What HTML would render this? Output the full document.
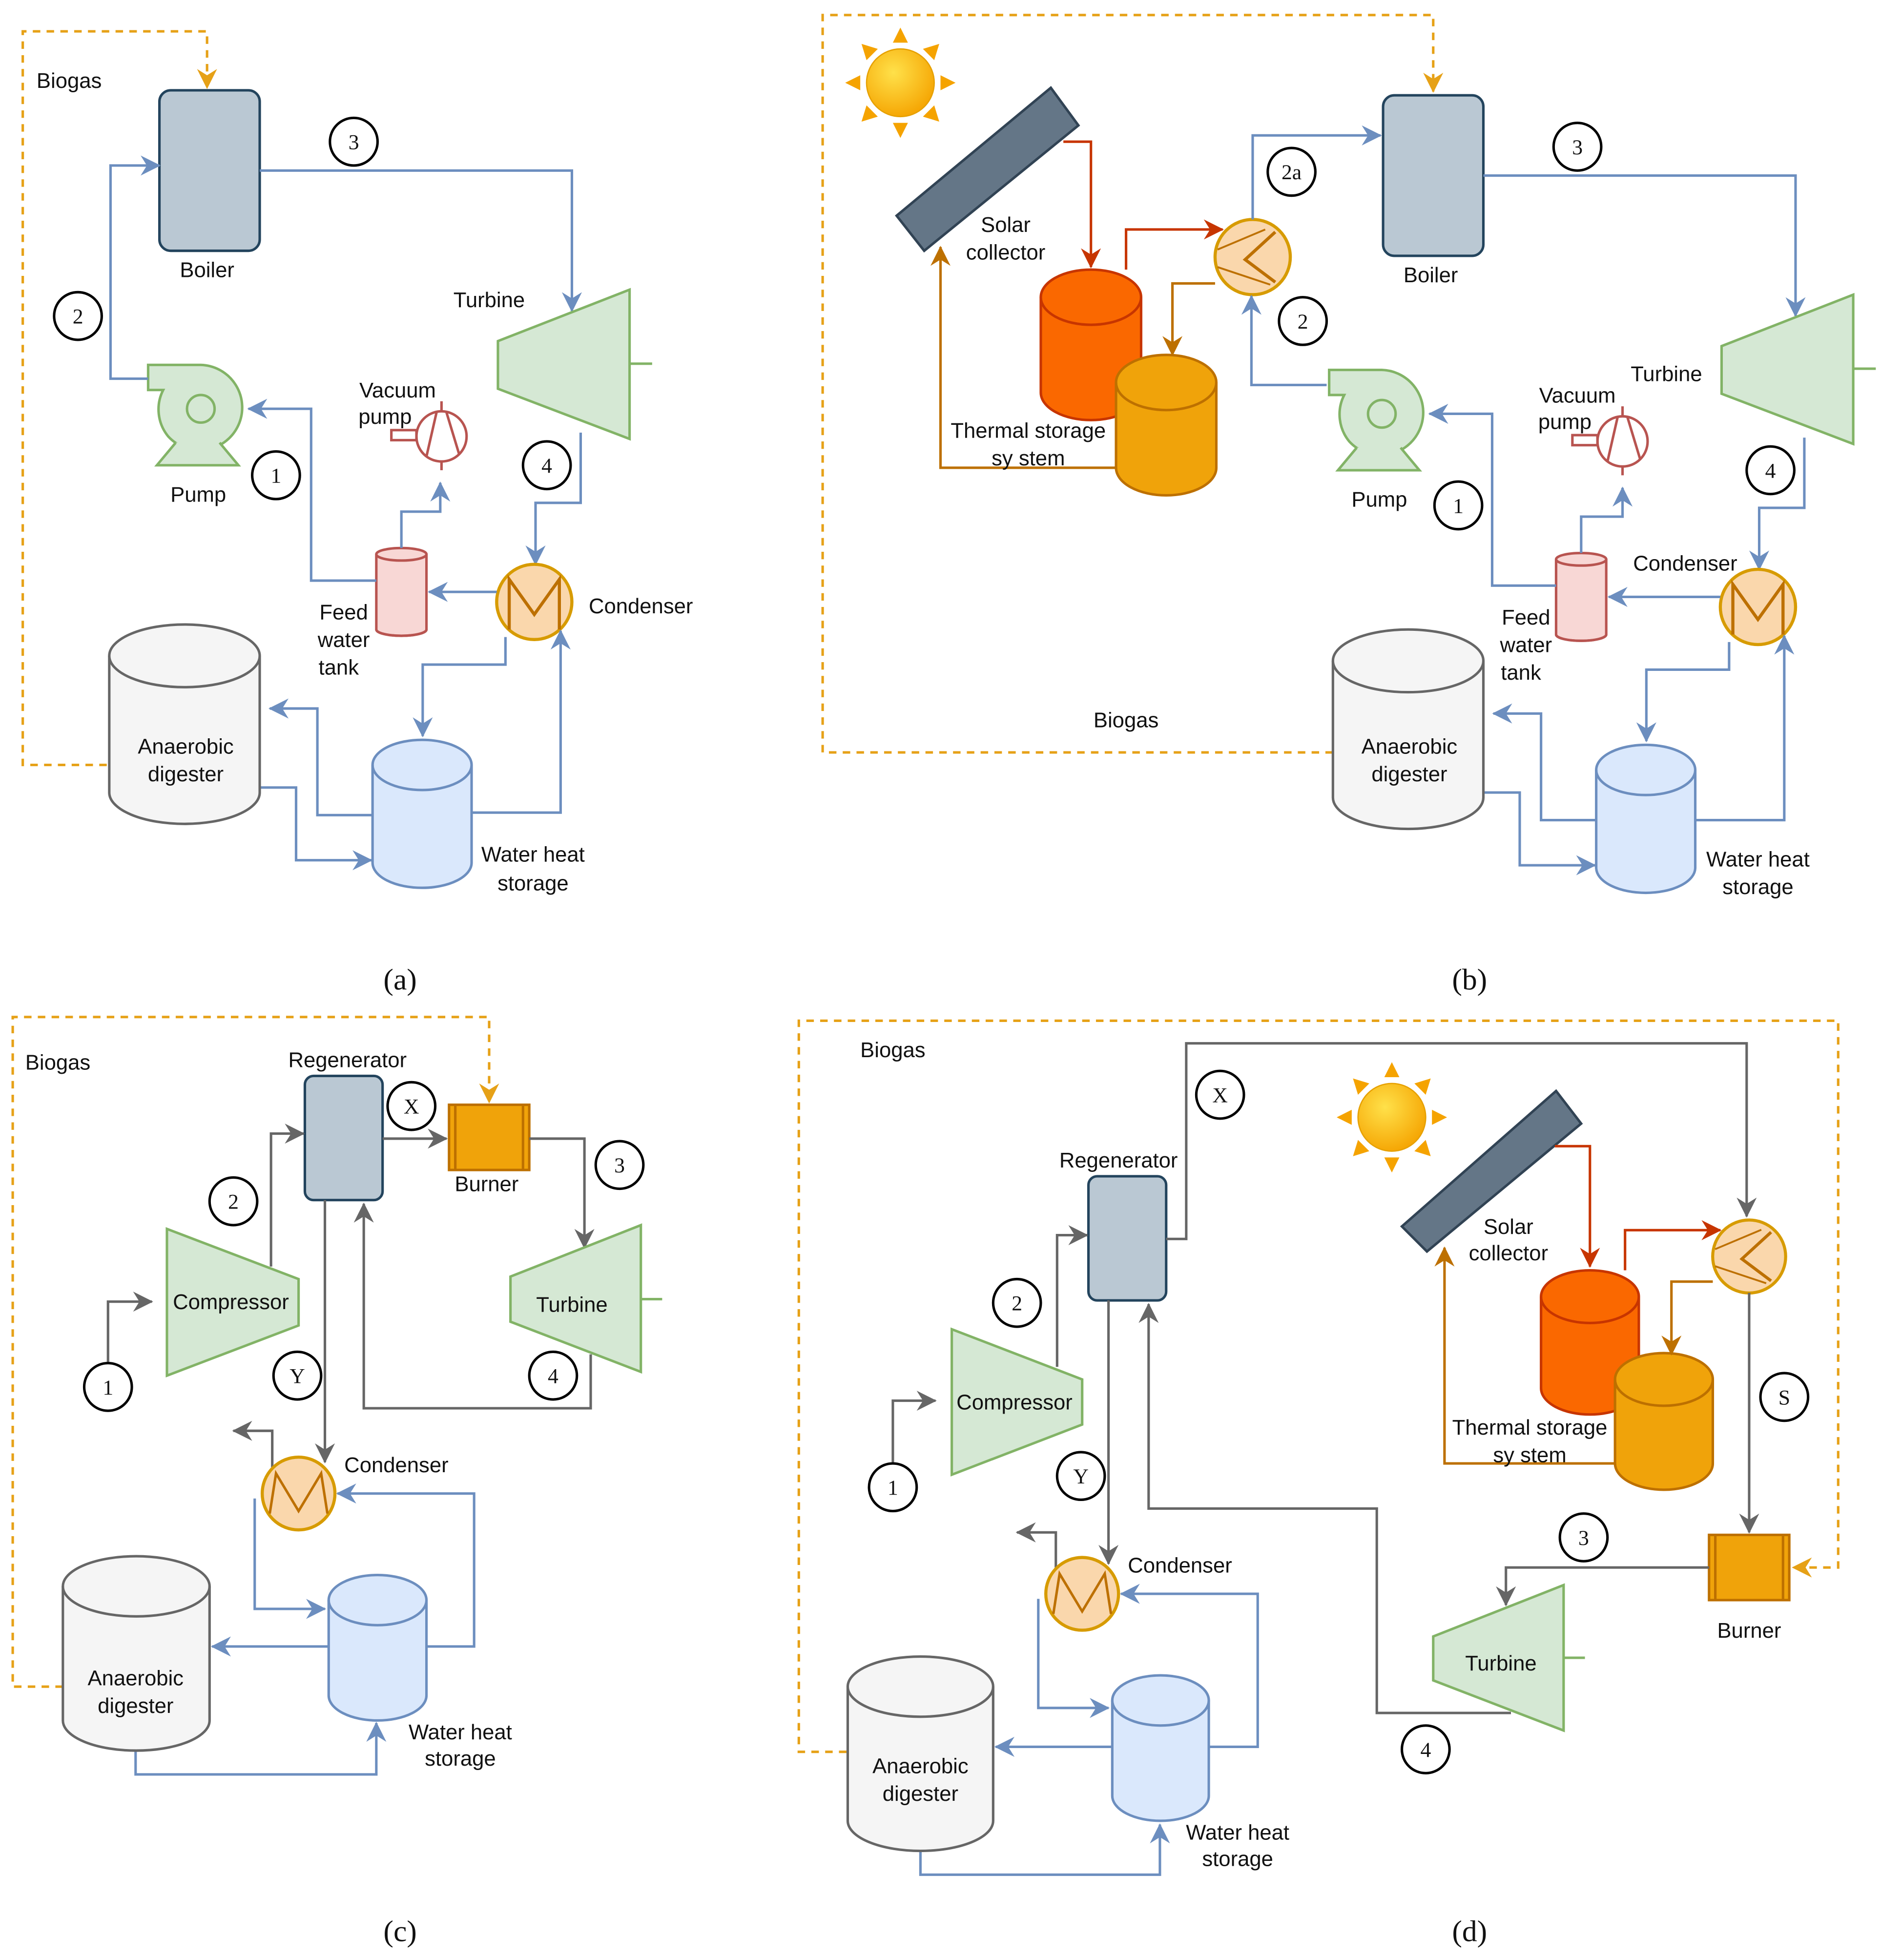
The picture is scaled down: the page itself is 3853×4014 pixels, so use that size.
<!DOCTYPE html>
<html><head><meta charset="utf-8"><style>
html,body{margin:0;padding:0;background:#fff}
svg{display:block}
text{font-family:"Liberation Sans",sans-serif;font-size:17px;fill:#111;text-anchor:middle}
.s{font-family:"Liberation Serif",serif}
.b{fill:none;stroke:#6c8ebf;stroke-width:2}
.g{fill:none;stroke:#666;stroke-width:2}
.d{fill:none;stroke:#e6a117;stroke-width:2;stroke-dasharray:6 5}
.r{fill:none;stroke:#c73500;stroke-width:2}
.o{fill:none;stroke:#bd7000;stroke-width:2}
.c{fill:#fff;stroke:#000;stroke-width:2}
</style></head><body>
<svg width="3853" height="4014" viewBox="0 0 1500 1563" xmlns="http://www.w3.org/2000/svg">
<defs>
<marker id="ab" viewBox="0 0 10 10" refX="9" refY="5" markerWidth="8" markerHeight="8" orient="auto" markerUnits="userSpaceOnUse"><path d="M0 0L10 5L0 10L3 5z" fill="#6c8ebf" transform="scale(1.6)" /></marker>
<marker id="ag" viewBox="0 0 16 16" refX="15" refY="8" markerWidth="16" markerHeight="16" orient="auto" markerUnits="userSpaceOnUse"><path d="M0 0L16 8L0 16L5 8z" fill="#666"/></marker>
<marker id="abl" viewBox="0 0 16 16" refX="15" refY="8" markerWidth="16" markerHeight="16" orient="auto" markerUnits="userSpaceOnUse"><path d="M0 0L16 8L0 16L5 8z" fill="#6c8ebf"/></marker>
<marker id="ad" viewBox="0 0 16 16" refX="15" refY="8" markerWidth="16" markerHeight="16" orient="auto" markerUnits="userSpaceOnUse"><path d="M0 0L16 8L0 16L5 8z" fill="#e6a117"/></marker>
<marker id="ar" viewBox="0 0 16 16" refX="15" refY="8" markerWidth="16" markerHeight="16" orient="auto" markerUnits="userSpaceOnUse"><path d="M0 0L16 8L0 16L5 8z" fill="#c73500"/></marker>
<marker id="ao" viewBox="0 0 16 16" refX="15" refY="8" markerWidth="16" markerHeight="16" orient="auto" markerUnits="userSpaceOnUse"><path d="M0 0L16 8L0 16L5 8z" fill="#bd7000"/></marker>
<radialGradient id="sun" cx="0.4" cy="0.35" r="0.7"><stop offset="0" stop-color="#ffe14a"/><stop offset="1" stop-color="#f5a300"/></radialGradient>
<g id="pump"><path d="M-42 -35 H0 A34 34 0 1 1 -26 22 A34 34 0 0 1 -30 -15 H-42 Z" fill="#d5e8d4" stroke="#82b366" stroke-width="2"/><circle r="11" fill="none" stroke="#82b366" stroke-width="2"/><path d="M-20 27 L-35 45 H30 L15 27" fill="#d5e8d4" stroke="#82b366" stroke-width="2"/></g>
<g id="vac"><circle r="20" fill="#fff" stroke="#b85450" stroke-width="2"/><path d="M-12 16 L-4 -19 M4 -19 L14 14" stroke="#b85450" stroke-width="2" fill="none"/><rect x="-40" y="-5" width="20" height="8" fill="#fff" stroke="#b85450" stroke-width="2"/><path d="M0 -20V-28 M0 20V27" stroke="#b85450" stroke-width="2"/></g>
<g id="cond"><circle r="30" fill="#fad7ac" stroke="#d79b00" stroke-width="2.5"/><path d="M-20 22 V-18 L0 10 L20 -18 V22" fill="none" stroke="#bd7000" stroke-width="2.5"/></g>
<g id="cond2"><circle r="29" fill="#fad7ac" stroke="#d79b00" stroke-width="2.5"/><path d="M-23 16 L-18 -16 L0 14 L18 -16 L23 16" fill="none" stroke="#bd7000" stroke-width="2"/></g>
<g id="hx"><circle r="30" fill="#fad7ac" stroke="#d79b00" stroke-width="2.5"/><path d="M18 -20 L-6 2 L18 20" fill="none" stroke="#bd7000" stroke-width="2.5"/><path d="M-28 -6 L10 -22 M-28 8 L14 22" stroke="#bd7000" stroke-width="1.5" fill="none"/></g>
<g id="sunI"><g fill="#f5a300"><path d="M0 -44 L-6 -32 H6Z"/><path d="M0 44 L-6 32 H6Z"/><path d="M-44 0 L-32 -6 V6Z"/><path d="M44 0 L32 -6 V6Z"/><path d="M-31 -31 L-27 -18 L-18 -27Z"/><path d="M31 -31 L27 -18 L18 -27Z"/><path d="M-31 31 L-27 18 L-18 27Z"/><path d="M31 31 L27 18 L18 27Z"/></g><circle r="27" fill="url(#sun)" stroke="#e6a000"/></g>
<g id="burner"><rect x="0" y="0" width="64" height="52" fill="#f0a30a" stroke="#bd7000" stroke-width="2"/><path d="M5 0V52 M59 0V52" stroke="#bd7000" stroke-width="2"/></g>
</defs>

<!-- ===== (a) ===== -->
<path class="d" d="M85 610H18V25H165V70" marker-end="url(#ad)"/>
<text x="55" y="70">Biogas</text>
<rect x="127" y="72" width="80" height="128" rx="9" fill="#bac8d3" stroke="#23445d" stroke-width="2"/>
<text x="165" y="221">Boiler</text>
<path class="b" d="M207 136H456V248" marker-end="url(#abl)"/>
<circle class="c" cx="282" cy="113" r="19"/><text class="s" x="282" y="119">3</text>
<path d="M397 272L502 231V350L397 310Z" fill="#d5e8d4" stroke="#82b366" stroke-width="2"/><path d="M502 290H520" stroke="#82b366" stroke-width="2"/>
<text x="390" y="245">Turbine</text>
<path class="b" d="M463 345V401H427V450" marker-end="url(#abl)"/>
<circle class="c" cx="436" cy="371" r="19"/><text class="s" x="436" y="377">4</text>
<use href="#cond" x="426" y="480"/>
<text x="511" y="489">Condenser</text>
<path class="b" d="M396 472H342" marker-end="url(#abl)"/>
<path d="M300 442a20 5 0 0 1 40 0v60a20 5 0 0 1 -40 0z" fill="#f8d7d5" stroke="#b85450" stroke-width="2"/><path d="M300 442a20 5 0 0 0 40 0M300 502a20 5 0 0 0 40 0" fill="none" stroke="#b85450" stroke-width="2"/>
<text x="274" y="494">Feed</text><text x="274" y="516">water</text><text x="270" y="538">tank</text>
<path class="b" d="M320 437V408H351V385" marker-end="url(#abl)"/>
<use href="#vac" x="352" y="348"/>
<text x="317" y="317">Vacuum</text><text x="307" y="338">pump</text>
<path class="b" d="M300 463H248V326H198" marker-end="url(#abl)"/>
<use href="#pump" x="160" y="326"/>
<text x="158" y="400">Pump</text>
<circle class="c" cx="220" cy="379" r="19"/><text class="s" x="220" y="385">1</text>
<path class="b" d="M118 302H88V132H127" marker-end="url(#abl)"/>
<circle class="c" cx="62" cy="252" r="19"/><text class="s" x="62" y="258">2</text>
<path class="b" d="M403 508V530H337V587" marker-end="url(#abl)"/>
<path class="b" d="M376 648H447V503" marker-end="url(#abl)"/>
<path class="b" d="M297 650H253V565H215" marker-end="url(#abl)"/>
<path class="b" d="M207 628H236V686H296" marker-end="url(#abl)"/>
<path d="M87 523a60 25 0 0 1 120 0v109a60 25 0 0 1 -120 0z" fill="#f5f5f5" stroke="#666" stroke-width="2"/><path d="M87 523a60 25 0 0 0 120 0" fill="none" stroke="#666" stroke-width="2"/>
<text x="148" y="601">Anaerobic</text><text x="148" y="623">digester</text>
<path d="M297 610a39.5 20 0 0 1 79 0v78a39.5 20 0 0 1 -79 0z" fill="#dae8fc" stroke="#6c8ebf" stroke-width="2"/><path d="M297 610a39.5 20 0 0 0 79 0" fill="none" stroke="#6c8ebf" stroke-width="2"/>
<text x="425" y="687">Water heat</text><text x="425" y="710">storage</text>
<text class="s" x="319" y="789" style="font-size:24px">(a)</text>

<!-- ===== (b) ===== -->
<path class="d" d="M1063 600H656V12H1143V73" marker-end="url(#ad)"/>
<text x="898" y="580">Biogas</text>
<use href="#sunI" x="718" y="66"/>
<path d="M715 172L838 70L860 100L737 200Z" fill="#647687" stroke="#314354" stroke-width="2"/>
<text x="802" y="185">Solar</text><text x="802" y="207">collector</text>
<path class="r" d="M848 113H870V213" marker-end="url(#ar)"/>
<path d="M830 237a40 22 0 0 1 80 0v76a40 22 0 0 1 -80 0z" fill="#fa6800" stroke="#c73500" stroke-width="2"/><path d="M830 237a40 22 0 0 0 80 0" fill="none" stroke="#c73500" stroke-width="2"/>
<path d="M890 305a40 22 0 0 1 80 0v68a40 22 0 0 1 -80 0z" fill="#f0a30a" stroke="#bd7000" stroke-width="2"/><path d="M890 305a40 22 0 0 0 80 0" fill="none" stroke="#bd7000" stroke-width="2"/>
<path class="r" d="M898 215V183H975" marker-end="url(#ar)"/>
<use href="#hx" x="999" y="205"/>
<path class="o" d="M969 226H935V283" marker-end="url(#ao)"/>
<path class="o" d="M890 373H750V197" marker-end="url(#ao)"/>
<text x="820" y="349">Thermal storage</text><text x="820" y="371">sy stem</text>
<path class="b" d="M999 175V108H1101" marker-end="url(#abl)"/>
<circle class="c" cx="1030" cy="137" r="19"/><text class="s" x="1030" y="143">2a</text>
<path class="b" d="M1058 307H998V236" marker-end="url(#abl)"/>
<circle class="c" cx="1039" cy="256" r="19"/><text class="s" x="1039" y="262">2</text>
<g transform="translate(976,4)">
<rect x="127" y="72" width="80" height="128" rx="9" fill="#bac8d3" stroke="#23445d" stroke-width="2"/>
<text x="165" y="221">Boiler</text>
<path class="b" d="M207 136H456V248" marker-end="url(#abl)"/>
<circle class="c" cx="282" cy="113" r="19"/><text class="s" x="282" y="119">3</text>
<path d="M397 272L502 231V350L397 310Z" fill="#d5e8d4" stroke="#82b366" stroke-width="2"/><path d="M502 290H520" stroke="#82b366" stroke-width="2"/>
<text x="353" y="300">Turbine</text>
<path class="b" d="M463 345V401H427V450" marker-end="url(#abl)"/>
<circle class="c" cx="436" cy="371" r="19"/><text class="s" x="436" y="377">4</text>
<use href="#cond" x="426" y="480"/>
<text x="368" y="451">Condenser</text>
<path class="b" d="M396 472H307" marker-end="url(#abl)"/>
<path d="M265 442a20 5 0 0 1 40 0v60a20 5 0 0 1 -40 0z" fill="#f8d7d5" stroke="#b85450" stroke-width="2"/><path d="M265 442a20 5 0 0 0 40 0M265 502a20 5 0 0 0 40 0" fill="none" stroke="#b85450" stroke-width="2"/>
<text x="241" y="494">Feed</text><text x="241" y="516">water</text><text x="237" y="538">tank</text>
<path class="b" d="M285 437V408H318V385" marker-end="url(#abl)"/>
<use href="#vac" x="318" y="348"/>
<text x="282" y="317">Vacuum</text><text x="272" y="338">pump</text>
<path class="b" d="M265 463H214V326H164" marker-end="url(#abl)"/>
<use href="#pump" x="126" y="326"/>
<text x="124" y="400">Pump</text>
<circle class="c" cx="187" cy="399" r="19"/><text class="s" x="187" y="405">1</text>
<path class="b" d="M403 508V530H337V587" marker-end="url(#abl)"/>
<path class="b" d="M376 650H447V503" marker-end="url(#abl)"/>
<path class="b" d="M297 650H253V565H215" marker-end="url(#abl)"/>
<path class="b" d="M207 628H236V686H296" marker-end="url(#abl)"/>
<path d="M87 523a60 25 0 0 1 120 0v109a60 25 0 0 1 -120 0z" fill="#f5f5f5" stroke="#666" stroke-width="2"/><path d="M87 523a60 25 0 0 0 120 0" fill="none" stroke="#666" stroke-width="2"/>
<text x="148" y="597">Anaerobic</text><text x="148" y="619">digester</text>
<path d="M297 610a39.5 20 0 0 1 79 0v78a39.5 20 0 0 1 -79 0z" fill="#dae8fc" stroke="#6c8ebf" stroke-width="2"/><path d="M297 610a39.5 20 0 0 0 79 0" fill="none" stroke="#6c8ebf" stroke-width="2"/>
<text x="426" y="687">Water heat</text><text x="426" y="709">storage</text>
</g>
<text class="s" x="1172" y="789" style="font-size:24px">(b)</text>

<!-- ===== (c) ===== -->
<path class="d" d="M50 1345H10V811H390V879" marker-end="url(#ad)"/>
<text x="46" y="853">Biogas</text>
<rect x="243" y="858" width="62" height="99" rx="7" fill="#bac8d3" stroke="#23445d" stroke-width="2"/>
<text x="277" y="851">Regenerator</text>
<circle class="c" cx="328" cy="882" r="19"/><text class="s" x="328" y="888">X</text>
<path class="g" d="M305 908H356" marker-end="url(#ag)"/>
<use href="#burner" x="358" y="881"/>
<text x="388" y="950">Burner</text>
<path class="g" d="M422 908H466V995" marker-end="url(#ag)"/>
<circle class="c" cx="494" cy="929" r="19"/><text class="s" x="494" y="935">3</text>
<path d="M407 1018L511 977V1094L407 1054Z" fill="#d5e8d4" stroke="#82b366" stroke-width="2"/><path d="M511 1036H528" stroke="#82b366" stroke-width="2"/>
<text x="456" y="1046">Turbine</text>
<path class="g" d="M471 1080V1123H290V960" marker-end="url(#ag)"/>
<circle class="c" cx="441" cy="1097" r="19"/><text class="s" x="441" y="1103">4</text>
<path d="M133 980L238 1020V1057L133 1097Z" fill="#d5e8d4" stroke="#82b366" stroke-width="2"/>
<text x="184" y="1044">Compressor</text>
<path class="g" d="M86 1086V1038H121" marker-end="url(#ag)"/>
<circle class="c" cx="86" cy="1106" r="19"/><text class="s" x="86" y="1112">1</text>
<path class="g" d="M216 1010V904H242" marker-end="url(#ag)"/>
<circle class="c" cx="186" cy="958" r="19"/><text class="s" x="186" y="964">2</text>
<path class="g" d="M259 957V1166" marker-end="url(#ag)"/>
<circle class="c" cx="237" cy="1097" r="19"/><text class="s" x="237" y="1103">Y</text>
<path class="g" d="M217 1170V1141H186" marker-end="url(#ag)"/>
<use href="#cond2" x="238" y="1191"/>
<text x="316" y="1174">Condenser</text>
<path class="b" d="M203 1195V1283H259" marker-end="url(#abl)"/>
<path class="b" d="M340 1313H378V1191H269" marker-end="url(#abl)"/>
<path class="b" d="M262 1313H169" marker-end="url(#abl)"/>
<path class="b" d="M108 1396V1415H300V1374" marker-end="url(#abl)"/>
<path d="M50 1265a58.5 24 0 0 1 117 0v107a58.5 24 0 0 1 -117 0z" fill="#f5f5f5" stroke="#666" stroke-width="2"/><path d="M50 1265a58.5 24 0 0 0 117 0" fill="none" stroke="#666" stroke-width="2"/>
<text x="108" y="1344">Anaerobic</text><text x="108" y="1366">digester</text>
<path d="M262 1276a39 20 0 0 1 78 0v76a39 20 0 0 1 -78 0z" fill="#dae8fc" stroke="#6c8ebf" stroke-width="2"/><path d="M262 1276a39 20 0 0 0 78 0" fill="none" stroke="#6c8ebf" stroke-width="2"/>
<text x="367" y="1387">Water heat</text><text x="367" y="1408">storage</text>
<text class="s" x="319" y="1548" style="font-size:24px">(c)</text>

<!-- ===== (d) ===== -->
<path class="d" d="M675 1397H637V814H1466V1250H1430" marker-end="url(#ad)"/>
<text x="712" y="843">Biogas</text>
<rect x="868" y="938" width="62" height="99" rx="7" fill="#bac8d3" stroke="#23445d" stroke-width="2"/>
<text x="892" y="931">Regenerator</text>
<path class="g" d="M930 988H946V832H1393V970" marker-end="url(#ag)"/>
<circle class="c" cx="973" cy="873" r="19"/><text class="s" x="973" y="879">X</text>
<use href="#sunI" x="1110" y="891"/>
<path d="M1118 978L1241 870L1261 896L1138 998Z" fill="#647687" stroke="#314354" stroke-width="2"/>
<text x="1203" y="984">Solar</text><text x="1203" y="1005">collector</text>
<path class="r" d="M1240 914H1268V1010" marker-end="url(#ar)"/>
<path d="M1229 1034a39 21 0 0 1 78 0v73a39 21 0 0 1 -78 0z" fill="#fa6800" stroke="#c73500" stroke-width="2"/><path d="M1229 1034a39 21 0 0 0 78 0" fill="none" stroke="#c73500" stroke-width="2"/>
<path d="M1288 1100a39 21 0 0 1 78 0v67a39 21 0 0 1 -78 0z" fill="#f0a30a" stroke="#bd7000" stroke-width="2"/><path d="M1288 1100a39 21 0 0 0 78 0" fill="none" stroke="#bd7000" stroke-width="2"/>
<path class="r" d="M1296 1013V981H1372" marker-end="url(#ar)"/>
<use href="#hx" x="1395" y="1002" transform="translate(1395 1002) scale(0.97) translate(-1395 -1002)"/>
<path class="o" d="M1366 1022H1333V1080" marker-end="url(#ao)"/>
<path class="o" d="M1288 1167H1152V995" marker-end="url(#ao)"/>
<text x="1220" y="1144">Thermal storage</text><text x="1220" y="1166">sy stem</text>
<path class="g" d="M1395 1031V1222" marker-end="url(#ag)"/>
<circle class="c" cx="1423" cy="1114" r="19"/><text class="s" x="1423" y="1120">S</text>
<use href="#burner" x="1363" y="1224"/>
<text x="1395" y="1306">Burner</text>
<path class="g" d="M1363 1250H1201V1280" marker-end="url(#ag)"/>
<circle class="c" cx="1263" cy="1226" r="19"/><text class="s" x="1263" y="1232">3</text>
<path d="M1143 1305L1247 1264V1380L1143 1340Z" fill="#d5e8d4" stroke="#82b366" stroke-width="2"/><path d="M1247 1322H1264" stroke="#82b366" stroke-width="2"/>
<text x="1197" y="1332">Turbine</text>
<path class="g" d="M1205 1366H1098V1203H916V1040" marker-end="url(#ag)"/>
<circle class="c" cx="1137" cy="1395" r="19"/><text class="s" x="1137" y="1401">4</text>
<path d="M759 1060L863 1100V1136L759 1176Z" fill="#d5e8d4" stroke="#82b366" stroke-width="2"/>
<text x="809" y="1124">Compressor</text>
<path class="g" d="M712 1166V1117H746" marker-end="url(#ag)"/>
<circle class="c" cx="712" cy="1186" r="19"/><text class="s" x="712" y="1192">1</text>
<path class="g" d="M843 1090V985H867" marker-end="url(#ag)"/>
<circle class="c" cx="811" cy="1039" r="19"/><text class="s" x="811" y="1045">2</text>
<path class="g" d="M884 1037V1247" marker-end="url(#ag)"/>
<circle class="c" cx="862" cy="1177" r="19"/><text class="s" x="862" y="1183">Y</text>
<path class="g" d="M842 1250V1222H811" marker-end="url(#ag)"/>
<use href="#cond2" x="863" y="1271"/>
<text x="941" y="1254">Condenser</text>
<path class="b" d="M828 1275V1362H884" marker-end="url(#abl)"/>
<path class="b" d="M964 1393H1003V1271H894" marker-end="url(#abl)"/>
<path class="b" d="M887 1393H794" marker-end="url(#abl)"/>
<path class="b" d="M734 1476V1495H925V1455" marker-end="url(#abl)"/>
<path d="M676 1345a58 24 0 0 1 116 0v107a58 24 0 0 1 -116 0z" fill="#f5f5f5" stroke="#666" stroke-width="2"/><path d="M676 1345a58 24 0 0 0 116 0" fill="none" stroke="#666" stroke-width="2"/>
<text x="734" y="1414">Anaerobic</text><text x="734" y="1436">digester</text>
<path d="M887 1356a38.5 20 0 0 1 77 0v76a38.5 20 0 0 1 -77 0z" fill="#dae8fc" stroke="#6c8ebf" stroke-width="2"/><path d="M887 1356a38.5 20 0 0 0 77 0" fill="none" stroke="#6c8ebf" stroke-width="2"/>
<text x="987" y="1467">Water heat</text><text x="987" y="1488">storage</text>
<text class="s" x="1172" y="1548" style="font-size:24px">(d)</text>
</svg>
</body></html>
